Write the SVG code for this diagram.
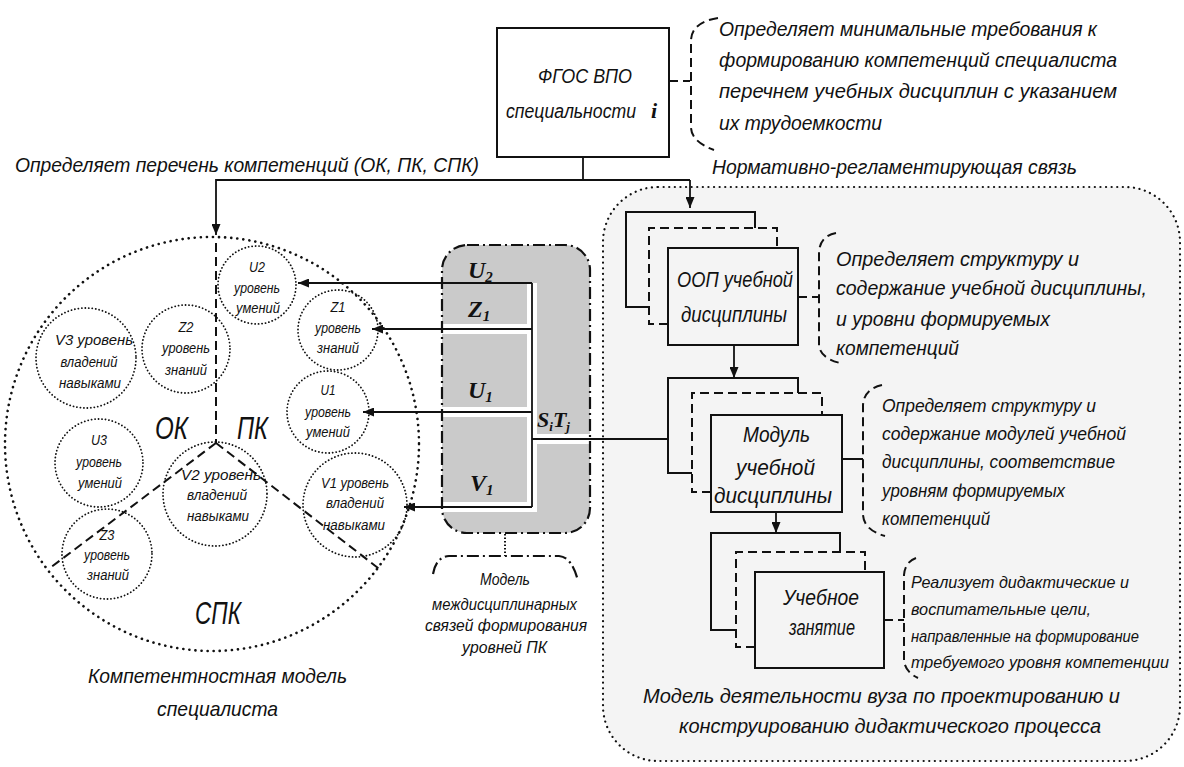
<svg xmlns="http://www.w3.org/2000/svg" width="1184" height="767" viewBox="0 0 1184 767">
<style>
.t{font-family:"Liberation Sans","DejaVu Sans",sans-serif;font-style:italic;fill:#111}
.m{font-family:"Liberation Serif","DejaVu Serif",serif;font-style:italic;font-weight:bold;fill:#111}
.s{fill:none;stroke:#111;stroke-width:2}
.d{fill:none;stroke:#111;stroke-width:2;stroke-dasharray:9 5}
.dot{fill:none;stroke:#111;stroke-width:1.8;stroke-dasharray:0.1 3.4;stroke-linecap:round}
.dd{fill:none;stroke:#111;stroke-width:2.2;stroke-dasharray:12 4 2 4}
.c{font-size:14px;text-anchor:middle}
.w{fill:none;stroke:#fff;stroke-width:10}
</style>
<defs>
<marker id="ar" markerUnits="userSpaceOnUse" markerWidth="11" markerHeight="9" refX="11" refY="4.5" orient="auto">
<path d="M0,0 L11,4.5 L0,9 z" fill="#111"/>
</marker>
</defs>
<rect width="1184" height="767" fill="#fff"/>

<!-- Right panel -->
<g id="panel-vuz">
<rect x="603" y="187" width="577" height="574" rx="55" fill="#f4f4f4" stroke="#111" stroke-width="2.2" stroke-dasharray="0.1 5.5" stroke-linecap="round"/>
<text class="t" x="643" y="703" font-size="21" textLength="477" lengthAdjust="spacingAndGlyphs">Модель деятельности вуза по проектированию и</text>
<text class="t" x="679" y="733" font-size="21" textLength="422" lengthAdjust="spacingAndGlyphs">конструированию дидактического процесса</text>
</g>

<!-- Competence model -->
<g id="competence-model">
<circle cx="212" cy="444" r="207" fill="none" stroke="#111" stroke-width="2.6" stroke-dasharray="0.1 6" stroke-linecap="round"/>
<path class="d" d="M216,243 V443 M216,443 L50,568 M216,443 L382,571" stroke-dasharray="11 6"/>
<text class="t" x="155" y="439" font-size="32" textLength="33" lengthAdjust="spacingAndGlyphs">ОК</text>
<text class="t" x="237" y="439" font-size="32" textLength="31" lengthAdjust="spacingAndGlyphs">ПК</text>
<text class="t" x="195" y="624" font-size="32" textLength="46" lengthAdjust="spacingAndGlyphs">СПК</text>
<text class="t" x="88" y="683" font-size="21" textLength="259" lengthAdjust="spacingAndGlyphs">Компетентностная модель</text>
<text class="t" x="157" y="716" font-size="21" textLength="121" lengthAdjust="spacingAndGlyphs">специалиста</text>
</g>

<g id="c-u2"><circle class="dot" cx="257" cy="285" r="39"/>
<text class="t c" x="257" y="272" textLength="16" lengthAdjust="spacingAndGlyphs">U2</text><text class="t c" x="257" y="293" textLength="46" lengthAdjust="spacingAndGlyphs">уровень</text><text class="t c" x="258" y="313" textLength="44" lengthAdjust="spacingAndGlyphs">умений</text></g>
<g id="c-z1"><circle class="dot" cx="338" cy="330" r="40"/>
<text class="t c" x="338" y="312" textLength="15" lengthAdjust="spacingAndGlyphs">Z1</text><text class="t c" x="338" y="333" textLength="46" lengthAdjust="spacingAndGlyphs">уровень</text><text class="t c" x="338" y="353" textLength="42" lengthAdjust="spacingAndGlyphs">знаний</text></g>
<g id="c-z2"><circle class="dot" cx="186" cy="349" r="44"/>
<text class="t c" x="186" y="332" textLength="15" lengthAdjust="spacingAndGlyphs">Z2</text><text class="t c" x="186" y="353" textLength="48" lengthAdjust="spacingAndGlyphs">уровень</text><text class="t c" x="186" y="375" textLength="42" lengthAdjust="spacingAndGlyphs">знаний</text></g>
<g id="c-v3"><circle class="dot" cx="86" cy="358" r="50"/>
<text class="t c" x="94" y="345" textLength="78" lengthAdjust="spacingAndGlyphs">V3 уровень</text><text class="t c" x="89" y="367" textLength="57" lengthAdjust="spacingAndGlyphs">владений</text><text class="t c" x="90" y="388" textLength="62" lengthAdjust="spacingAndGlyphs">навыками</text></g>
<g id="c-u1"><circle class="dot" cx="328" cy="412" r="41"/>
<text class="t c" x="328" y="395" textLength="15" lengthAdjust="spacingAndGlyphs">U1</text><text class="t c" x="328" y="417" textLength="46" lengthAdjust="spacingAndGlyphs">уровень</text><text class="t c" x="328" y="437" textLength="44" lengthAdjust="spacingAndGlyphs">умений</text></g>
<g id="c-u3"><circle class="dot" cx="99" cy="463" r="44"/>
<text class="t c" x="99" y="445" textLength="16" lengthAdjust="spacingAndGlyphs">U3</text><text class="t c" x="99" y="467" textLength="46" lengthAdjust="spacingAndGlyphs">уровень</text><text class="t c" x="100" y="488" textLength="44" lengthAdjust="spacingAndGlyphs">умений</text></g>
<g id="c-v2"><circle class="dot" cx="215" cy="494" r="52"/>
<text class="t c" x="221" y="480" textLength="80" lengthAdjust="spacingAndGlyphs">V2 уровень</text><text class="t c" x="217" y="500" textLength="60" lengthAdjust="spacingAndGlyphs">владений</text><text class="t c" x="218" y="521" textLength="62" lengthAdjust="spacingAndGlyphs">навыками</text></g>
<g id="c-v1"><circle class="dot" cx="355" cy="505" r="52"/>
<text class="t c" x="355" y="488" textLength="68" lengthAdjust="spacingAndGlyphs">V1 уровень</text><text class="t c" x="355" y="508" textLength="58" lengthAdjust="spacingAndGlyphs">владений</text><text class="t c" x="354" y="530" textLength="62" lengthAdjust="spacingAndGlyphs">навыками</text></g>
<g id="c-z3"><circle class="dot" cx="107" cy="554" r="45"/>
<text class="t c" x="107" y="540" textLength="15" lengthAdjust="spacingAndGlyphs">Z3</text><text class="t c" x="107" y="560" textLength="46" lengthAdjust="spacingAndGlyphs">уровень</text><text class="t c" x="108" y="580" textLength="42" lengthAdjust="spacingAndGlyphs">знаний</text></g>

<!-- Interdisciplinary model panel -->
<g id="panel-links">
<rect x="442" y="245" width="148" height="288" rx="25" fill="#cacaca"/>
<path class="w" d="M442,329 H532 M442,412 H532 M442,507 H532 M532,283 V512 M532,439 H590"/>
<text class="m" x="468" y="278" font-size="24">U<tspan font-size="15" dy="4">2</tspan></text>
<text class="m" x="468" y="317" font-size="24">Z<tspan font-size="15" dy="4">1</tspan></text>
<text class="m" x="468" y="398" font-size="24">U<tspan font-size="15" dy="4">1</tspan></text>
<text class="m" x="470" y="491" font-size="24">V<tspan font-size="15" dy="4">1</tspan></text>
<text class="m" x="537" y="427" font-size="22">S<tspan font-size="13" dy="4">i</tspan><tspan dy="-4">T</tspan><tspan font-size="13" dy="4">j</tspan></text>
<rect class="dd" x="442" y="245" width="148" height="288" rx="25"/>
<path d="M505,534 V556" fill="none" stroke="#111" stroke-width="2" stroke-dasharray="1.5 2"/>
<path class="dd" d="M433,574 Q436,557 449,556 L559,556 Q572,557 578,581"/>
<text class="t" x="480" y="585" font-size="16" textLength="50" lengthAdjust="spacingAndGlyphs">Модель</text>
<text class="t" x="432" y="610" font-size="16" textLength="145" lengthAdjust="spacingAndGlyphs">междисциплинарных</text>
<text class="t" x="425" y="631" font-size="16" textLength="162" lengthAdjust="spacingAndGlyphs">связей формирования</text>
<text class="t" x="462" y="653" font-size="16" textLength="85" lengthAdjust="spacingAndGlyphs">уровней ПК</text>
</g>

<!-- FGOS -->
<g id="fgos">
<rect class="s" x="497" y="28" width="172" height="129" fill="#fff"/>
<text class="t" x="538" y="83" font-size="21" textLength="94" lengthAdjust="spacingAndGlyphs">ФГОС ВПО</text>
<text class="t" x="506" y="118" font-size="20" textLength="130" lengthAdjust="spacingAndGlyphs">специальности</text>
<text class="m" x="651" y="118" font-size="22">i</text>
</g>
<g id="fgos-note">
<path class="d" d="M669,81 H690"/>
<path class="d" d="M718,18 Q692,22 691,40 V128 Q692,142 714,150"/>
<text class="t" x="719" y="36" font-size="21" textLength="378" lengthAdjust="spacingAndGlyphs">Определяет минимальные требования к</text>
<text class="t" x="719" y="67" font-size="21" textLength="398" lengthAdjust="spacingAndGlyphs">формированию компетенций специалиста</text>
<text class="t" x="719" y="98" font-size="21" textLength="398" lengthAdjust="spacingAndGlyphs">перечнем учебных дисциплин с указанием</text>
<text class="t" x="719" y="130" font-size="21" textLength="163" lengthAdjust="spacingAndGlyphs">их трудоемкости</text>
</g>
<text class="t" x="712" y="174" font-size="21" textLength="365" lengthAdjust="spacingAndGlyphs">Нормативно-регламентирующая связь</text>
<text class="t" x="15" y="172" font-size="21" textLength="464" lengthAdjust="spacingAndGlyphs">Определяет перечень компетенций (ОК, ПК, СПК)</text>

<!-- OOP -->
<g id="oop">
<path class="s" d="M649,307 H626 V212 H755 V228"/>
<path class="d" d="M668,324 H649 V228 H777 V248"/>
<rect class="s" x="668" y="248" width="130" height="97" fill="#fff"/>
<text class="t" x="677" y="287" font-size="22" textLength="116" lengthAdjust="spacingAndGlyphs">ООП учебной</text>
<text class="t" x="681" y="322" font-size="22" textLength="106" lengthAdjust="spacingAndGlyphs">дисциплины</text>
</g>
<g id="oop-note">
<path class="d" d="M798,297 H819"/>
<path class="d" d="M836,233 Q820,236 819,252 V345 Q820,358 840,363"/>
<text class="t" x="836" y="266" font-size="21" textLength="243" lengthAdjust="spacingAndGlyphs">Определяет структуру и</text>
<text class="t" x="836" y="295" font-size="21" textLength="311" lengthAdjust="spacingAndGlyphs">содержание учебной дисциплины,</text>
<text class="t" x="836" y="326" font-size="21" textLength="214" lengthAdjust="spacingAndGlyphs">и уровни формируемых</text>
<text class="t" x="836" y="355" font-size="21" textLength="123" lengthAdjust="spacingAndGlyphs">компетенций</text>
</g>

<!-- Module -->
<g id="module">
<path class="s" d="M692,473 H668 V378 H798 V393"/>
<path class="d" d="M711,492 H692 V393 H822 V415"/>
<rect class="s" x="711" y="415" width="131" height="97" fill="#fff"/>
<text class="t" x="743" y="442" font-size="22" textLength="67" lengthAdjust="spacingAndGlyphs">Модуль</text>
<text class="t" x="736" y="475" font-size="22" textLength="79" lengthAdjust="spacingAndGlyphs">учебной</text>
<text class="t" x="714" y="503" font-size="22" textLength="118" lengthAdjust="spacingAndGlyphs">дисциплины</text>
</g>
<g id="module-note">
<path class="s" d="M842,459 H863"/>
<path class="d" d="M882,385 Q864,389 863,405 V515 Q864,530 885,536"/>
<text class="t" x="882" y="412" font-size="19" textLength="214" lengthAdjust="spacingAndGlyphs">Определяет структуру и</text>
<text class="t" x="882" y="440" font-size="19" textLength="244" lengthAdjust="spacingAndGlyphs">содержание модулей учебной</text>
<text class="t" x="882" y="468" font-size="19" textLength="233" lengthAdjust="spacingAndGlyphs">дисциплины, соответствие</text>
<text class="t" x="882" y="497" font-size="19" textLength="183" lengthAdjust="spacingAndGlyphs">уровням формируемых</text>
<text class="t" x="882" y="525" font-size="19" textLength="108" lengthAdjust="spacingAndGlyphs">компетенций</text>
</g>

<!-- Lesson -->
<g id="lesson">
<path class="s" d="M736,630 H711 V533 H840 V552"/>
<path class="d" d="M755,647 H736 V552 H865 V572"/>
<rect class="s" x="755" y="572" width="129" height="96" fill="#fff"/>
<text class="t" x="783" y="605" font-size="22" textLength="76" lengthAdjust="spacingAndGlyphs">Учебное</text>
<text class="t" x="789" y="635" font-size="22" textLength="66" lengthAdjust="spacingAndGlyphs">занятие</text>
</g>
<g id="lesson-note">
<path class="d" d="M884,620 H904"/>
<path class="d" d="M916,558 Q905,562 904,575 V660 Q905,672 918,678"/>
<text class="t" x="911" y="588" font-size="17" textLength="218" lengthAdjust="spacingAndGlyphs">Реализует дидактические и</text>
<text class="t" x="911" y="615" font-size="17" textLength="180" lengthAdjust="spacingAndGlyphs">воспитательные цели,</text>
<text class="t" x="911" y="642" font-size="16" textLength="228" lengthAdjust="spacingAndGlyphs">направленные на формирование</text>
<text class="t" x="911" y="668" font-size="16" textLength="258" lengthAdjust="spacingAndGlyphs">требуемого уровня компетенции</text>
</g>

<!-- Connectors -->
<g id="connectors" fill="none" stroke="#111" stroke-width="1.8">
<path d="M583,157 V180"/>
<path d="M690,180 H216 V235" marker-end="url(#ar)"/>
<path d="M690,180 V208" marker-end="url(#ar)"/>
<path d="M734,345 V378" marker-end="url(#ar)"/>
<path d="M776,512 V533" marker-end="url(#ar)"/>
<path d="M532,283 V507"/>
<path d="M532,283 H298" marker-end="url(#ar)"/>
<path d="M532,329 H372" marker-end="url(#ar)"/>
<path d="M532,412 H363" marker-end="url(#ar)"/>
<path d="M532,507 H404" marker-end="url(#ar)"/>
<path d="M532,439 H668"/>
</g>
</svg>
